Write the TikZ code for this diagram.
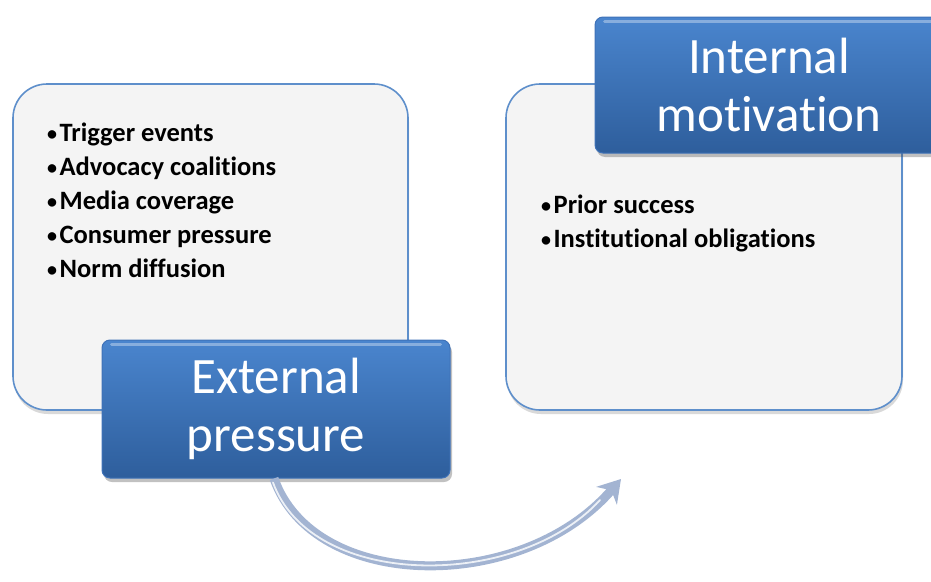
\documentclass[tikz,border=0pt]{standalone}
\usepackage{fontspec}
\setmainfont{Carlito}[Ligatures=NoCommon]
\usetikzlibrary{shadows,arrows.meta}
\definecolor{panelfill}{HTML}{F4F4F4}
\definecolor{panelline}{HTML}{5E8FCB}
\definecolor{titletop}{HTML}{4A85CE}
\definecolor{titlebot}{HTML}{2E5E9C}
\definecolor{titleline}{HTML}{3F72B8}
\definecolor{arrowcol}{HTML}{A3B4D2}
% small list bullet
\newcommand{\itembul}{{\fontsize{20}{20}\selectfont\raisebox{1.5pt}{•}}\hspace{2.5pt}}
\tikzset{
  panel/.style={draw=panelline, line width=1.6pt, fill=panelfill, rounded corners=34pt,
    drop shadow={shadow xshift=1pt, shadow yshift=-4pt, opacity=0.25, fill=black!60}},
  titlebox/.style={draw=titleline, line width=1pt, rounded corners=8pt,
    top color=titletop, bottom color=titlebot,
    drop shadow={shadow xshift=2pt, shadow yshift=-4pt, opacity=0.35, fill=black!70},
    text=white, align=center, font=\fontsize{51}{58}\selectfont, inner sep=0pt},
  bullets/.style={align=left, anchor=north west, inner sep=0pt,
    font=\bfseries\fontsize{26.5}{34}\selectfont},
}
\begin{document}
\begin{tikzpicture}[x=1pt, y=-1pt]
\useasboundingbox (0,0) rectangle (931,581);
\clip (0,0) rectangle (931,581);
% content panels
\path[panel] (13,84) rectangle (408,410);
\node (leftpanel) at (210,247) {};
\path[panel] (506,84) rectangle (902,410);
\node (rightpanel) at (704,247) {};
% bullet lists
\node[bullets] (extlist) at (47,123) {\itembul Trigger events\\\itembul Advocacy coalitions\\\itembul Media coverage\\\itembul Consumer pressure\\\itembul Norm diffusion};
\node[bullets] (intlist) at (541,195) {\itembul Prior success\\\itembul Institutional obligations};
% title boxes
\node[titlebox, minimum width=348pt, minimum height=138pt] (ext) at (276,409) {External\\pressure};
\node[titlebox, minimum width=348pt, minimum height=136pt] (int) at (769,85) {Internal\\motivation};
% glossy top edges
\draw[white, opacity=0.35, line width=3pt, line cap=round] ([xshift=10pt,yshift=-5pt]ext.north west) -- ([xshift=-10pt,yshift=-5pt]ext.north east);
\draw[white, opacity=0.35, line width=3pt, line cap=round] ([xshift=10pt,yshift=-5pt]int.north west) -- ([xshift=-10pt,yshift=-5pt]int.north east);
% curved connector
\coordinate (arrend) at (621,479);
\draw[arrowcol, line width=9pt, -{Stealth[length=22pt, width=27pt]}]
  ([xshift=-2pt]ext.south) .. controls (314,592) and (522,594) .. (arrend);
\draw[white, opacity=0.8, line width=1.8pt, line cap=round]
  ([xshift=-3pt,yshift=-4pt]ext.south) .. controls (312,590) and (518,590) .. (600,500);
\end{tikzpicture}
\end{document}
